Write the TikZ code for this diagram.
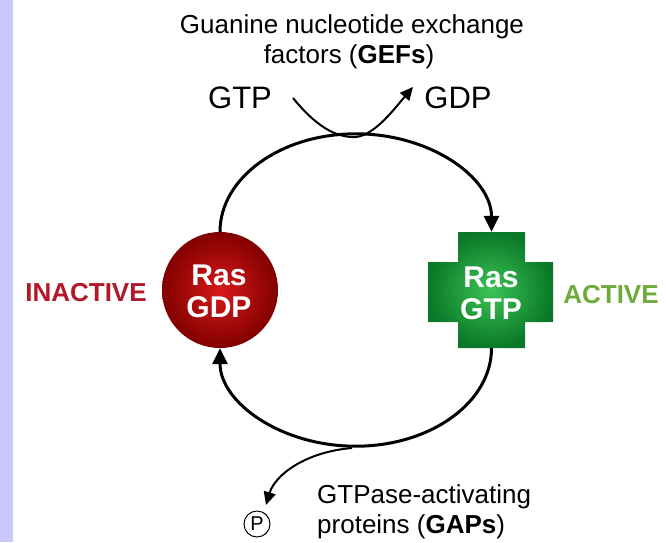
\documentclass[tikz,border=0pt]{standalone}
\usepackage{fontspec}
\setmainfont{Liberation Sans}
\usetikzlibrary{arrows.meta}
\definecolor{lav}{RGB}{200,200,250}
\definecolor{inred}{RGB}{178,24,40}
\definecolor{acgreen}{RGB}{110,170,60}
\definecolor{redin}{RGB}{215,25,25}
\definecolor{redout}{RGB}{130,0,0}
\definecolor{grin}{RGB}{60,195,85}
\definecolor{grout}{RGB}{10,120,40}
\tikzset{
  cyc/.style={line width=3pt, -{Triangle[length=16pt,width=15pt]}},
  side/.style={line width=2pt},
  sidearrow/.style={line width=2pt, -{Triangle[length=13pt,width=12pt]}},
  lbl/.style={font=\fontsize{26}{30}\selectfont, inner sep=0pt},
  big/.style={font=\fontsize{31}{34}\selectfont, inner sep=0pt},
  state/.style={font=\fontsize{26}{28}\selectfont\bfseries, inner sep=0pt},
  ras/.style={font=\fontsize{30}{35}\selectfont\bfseries, text=white, align=center}
}
\begin{document}
\begin{tikzpicture}[x=1pt,y=-1pt]
\useasboundingbox (0,0) rectangle (666,542);
\fill[white] (0,0) rectangle (666,542);
\fill[lav] (0,0) rectangle (13,542);
% red circle
\node[circle, minimum size=116pt, inner sep=0pt, shading=radial, inner color=redin, outer color=redout] (ras1) at (220,290) {};
\node[ras] at (219,291) {Ras\\[-3pt]GDP};
% green cross
\shade[inner color=grin, outer color=grout]
  (458,232) -- (525,232) -- (525,262) -- (553,262) -- (553,322) -- (525,322) -- (525,348)
  -- (458,348) -- (458,322) -- (428,322) -- (428,262) -- (458,262) -- cycle;
\node[minimum width=67pt, minimum height=116pt, inner sep=0pt] (ras2) at (491.5,290) {};
\node[ras] at (491,293) {Ras\\[-3pt]GTP};
% state labels
\node[state, text=inred] (inact) at (86,293) {INACTIVE};
\node[state, text=acgreen] (act) at (611,295) {ACTIVE};
% cycle arcs
\draw[cyc] (ras1.north) arc[start angle=180, end angle=0, x radius=135.75pt, y radius=98pt];
\draw[cyc] (ras2.south) arc[start angle=0, end angle=-180, x radius=135.75pt, y radius=98pt];
% top labels
\node[lbl] (gef1) at (352,27) {Guanine nucleotide exchange};
\node[lbl] (gef2) at (349,57) {factors (\textbf{GEFs})};
\node[big] (gtp) at (240,98) {GTP};
\node[big] (gdp) at (458,98) {GDP};
\coordinate (gs) at (293,98);
\coordinate (gm) at (356,137);
\coordinate (ge) at (413,87);
\draw[side] (gs) .. controls (315,125) and (335,138) .. (gm);
\draw[sidearrow] (gm) .. controls (375,135) and (395,108) .. (ge);
% bottom labels
\coordinate (bs) at (352,448);
\node[circle, draw, line width=1pt, minimum size=26pt, inner sep=0pt, font=\fontsize{20}{20}\selectfont] (pi) at (257,524) {P};
\coordinate (be) at (266,505);
\draw[sidearrow] (bs) .. controls (305,452) and (275,475) .. (be);
\node[lbl, anchor=west] (gap1) at (317,497) {GTPase-activating};
\node[lbl, anchor=west] (gap2) at (317,527) {proteins (\textbf{GAPs})};
\end{tikzpicture}
\end{document}
